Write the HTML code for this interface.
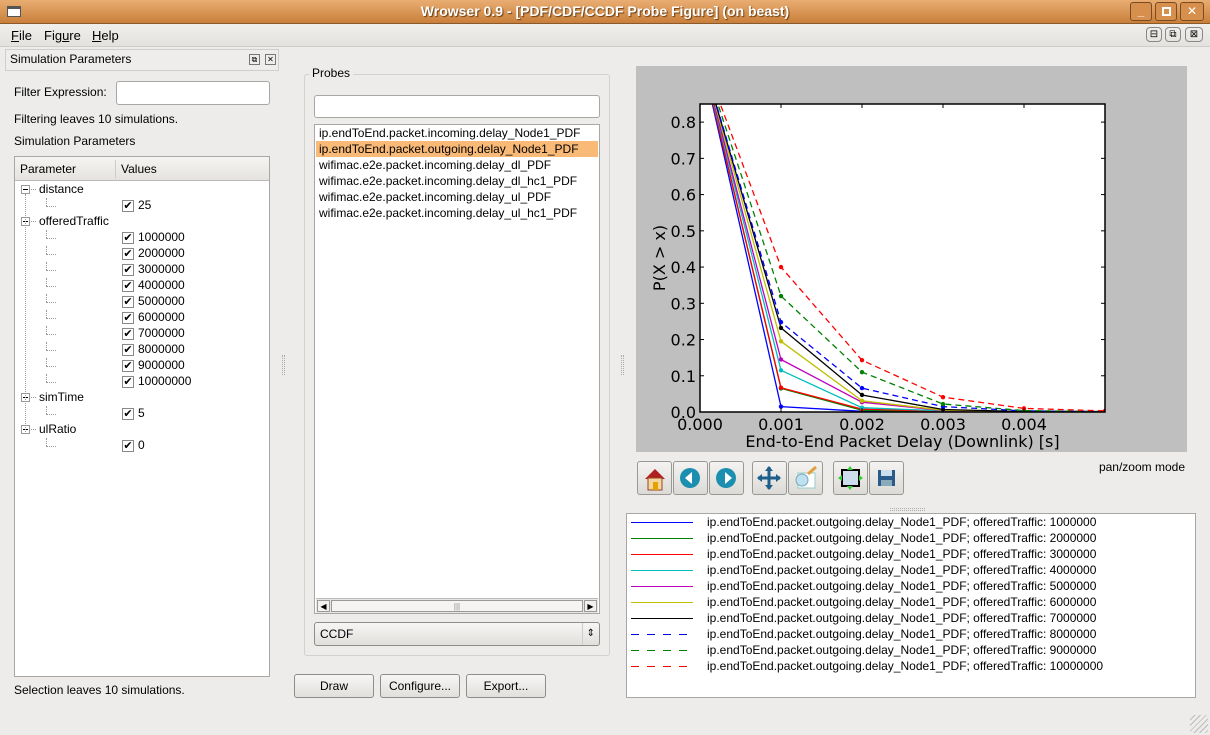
<!DOCTYPE html>
<html><head><meta charset="utf-8">
<style>
*{box-sizing:border-box;margin:0;padding:0}
body{width:1210px;height:735px;background:#edeceb;font-family:"Liberation Sans","DejaVu Sans",sans-serif;font-size:12px;color:#000;position:relative;overflow:hidden}
.a{position:absolute}
.t{position:absolute;white-space:nowrap;line-height:14px}
.box{position:absolute;background:#fff;border:1px solid #a9a7a3}
.btn{position:absolute;border:1px solid #8f8d89;border-radius:3px;background:linear-gradient(#f7f6f5,#e2e0dc);text-align:center;line-height:22px}
.tb{position:absolute;top:461px;width:35px;height:34px;border:1px solid #9a9893;border-radius:3px;background:linear-gradient(#f4f3f1,#dcdad6)}
.cb{position:absolute;width:12px;height:12px;border:1px solid #8a8884;background:#fff;font-size:11px;line-height:10px;text-align:center}
.dot{position:absolute;border-top:1px dotted #999;width:14px}
.vd{position:absolute;border-left:1px dotted #999}
.exp{position:absolute;width:9px;height:9px;border:1px solid #999;background:#fff}
.exp:after{content:"";position:absolute;left:1px;top:3px;width:5px;height:1px;background:#000}
</style></head><body>
<div class="a" style="left:0;top:0;width:1210px;height:24px;background:linear-gradient(#e9ad72,#c97f3a);border-bottom:1px solid #8a5a2a"></div>
<div class="a" style="left:7px;top:6px;width:14px;height:11px;background:#fff;border:1px solid #555;border-top:3px solid #555"></div>
<div class="t" style="left:0;width:1210px;top:4px;text-align:center;font-weight:bold;font-size:14px;color:#fff;text-shadow:1px 1px 1px #6a3e12">Wrowser 0.9 - [PDF/CDF/CCDF Probe Figure] (on beast)</div>
<div class="a" style="left:1130px;top:2px;width:22px;height:19px;border:1px solid #7a4a20;border-radius:3px;background:#d68f4c;color:#fff;text-align:center;font-weight:bold;line-height:17px">_</div>
<div class="a" style="left:1155px;top:2px;width:22px;height:19px;border:1px solid #7a4a20;border-radius:3px;background:#d68f4c;"><div class="a" style="left:6px;top:4px;width:9px;height:9px;border:2px solid #fff"></div></div>
<div class="a" style="left:1180px;top:2px;width:24px;height:19px;border:1px solid #7a4a20;border-radius:3px;background:#d68f4c;color:#fff;text-align:center;font-weight:bold;line-height:17px">✕</div>
<div class="a" style="left:0;top:24px;width:1210px;height:23px;background:linear-gradient(#f0efed,#e4e2de);border-bottom:1px solid #cfcdc9"></div>
<div class="t" style="left:11px;top:29px;font-size:13px"><u>F</u>ile</div>
<div class="t" style="left:44px;top:29px;font-size:13px">Fig<u>u</u>re</div>
<div class="t" style="left:92px;top:29px;font-size:13px"><u>H</u>elp</div>
<div class="a" style="left:1146px;top:27px;width:16px;height:15px;border:1px solid #888;border-radius:4px;font-size:10px;text-align:center;line-height:13px">⊟</div>
<div class="a" style="left:1165px;top:27px;width:16px;height:15px;border:1px solid #888;border-radius:4px;font-size:10px;text-align:center;line-height:13px">⧉</div>
<div class="a" style="left:1185px;top:27px;width:18px;height:15px;border:1px solid #888;border-radius:4px;font-size:10px;text-align:center;line-height:13px">⊠</div>

<div class="a" style="left:5px;top:49px;width:274px;height:22px;border:1px solid #cfcdc9;background:#eeedeb"></div>
<div class="t" style="left:10px;top:52px">Simulation Parameters</div>
<div class="a" style="left:249px;top:54px;width:11px;height:11px;border:1px solid #777;font-size:8px;line-height:9px;text-align:center">⧉</div>
<div class="a" style="left:265px;top:54px;width:11px;height:11px;border:1px solid #777;font-size:8px;line-height:9px;text-align:center">✕</div>
<div class="t" style="left:14px;top:85px">Filter Expression:</div>
<div class="box" style="left:116px;top:81px;width:154px;height:24px;border-radius:3px"></div>
<div class="t" style="left:14px;top:112px">Filtering leaves 10 simulations.</div>
<div class="t" style="left:14px;top:134px">Simulation Parameters</div>
<div class="box" style="left:14px;top:156px;width:256px;height:521px">
  <div class="a" style="left:0;top:0;width:254px;height:24px;background:linear-gradient(#f5f4f2,#e5e3df);border-bottom:1px solid #bbb"></div>
  <div class="t" style="left:5px;top:5px">Parameter</div>
  <div class="a" style="left:100px;top:3px;width:1px;height:18px;background:#ccc"></div>
  <div class="t" style="left:106px;top:5px">Values</div>
</div>
<div id="tree"></div>
<div class="t" style="left:14px;top:683px">Selection leaves 10 simulations.</div>
<div class="a" style="left:282px;top:355px;width:3px;height:20px;border-left:1px dotted #aaa;border-right:1px dotted #aaa"></div>

<div class="a" style="left:304px;top:74px;width:306px;height:582px;border:1px solid #d3d1cd;border-radius:3px"></div>
<div class="t" style="left:309px;top:66px;background:#edeceb;padding:0 3px">Probes</div>
<div class="box" style="left:314px;top:95px;width:286px;height:23px;border-radius:3px"></div>
<div class="box" style="left:314px;top:124px;width:286px;height:490px"></div>
<div class="a" style="left:316px;top:141px;width:282px;height:16px;background:#f9b977"></div>
<div id="probes"></div>
<div class="a" style="left:316px;top:598px;width:282px;height:15px;background:#e8e6e2;border-top:1px solid #bbb">
  <div class="a" style="left:1px;top:1px;width:13px;height:12px;border:1px solid #999;background:#f2f1ef;font-size:8px;text-align:center;line-height:11px">◀</div>
  <div class="a" style="left:15px;top:1px;width:252px;height:12px;border:1px solid #999;background:#f5f4f2;font-size:8px;text-align:center;line-height:11px;color:#888">|||</div>
  <div class="a" style="left:268px;top:1px;width:13px;height:12px;border:1px solid #999;background:#f2f1ef;font-size:8px;text-align:center;line-height:11px">▶</div>
</div>
<div class="btn" style="left:314px;top:622px;width:286px;height:24px;text-align:left;padding-left:5px">CCDF<span class="a" style="right:4px;top:0;border-left:1px solid #ccc;padding-left:4px;font-size:10px">⇕</span></div>
<div class="btn" style="left:294px;top:674px;width:80px;height:24px">Draw</div>
<div class="btn" style="left:380px;top:674px;width:80px;height:24px">Configure...</div>
<div class="btn" style="left:466px;top:674px;width:80px;height:24px">Export...</div>
<div class="a" style="left:621px;top:355px;width:3px;height:20px;border-left:1px dotted #aaa;border-right:1px dotted #aaa"></div>

<div class="a" style="left:636px;top:66px;width:551px;height:386px;background:#bfbfbf"></div>
<svg class="a" style="left:0;top:0" width="1210" height="735" id="chart"></svg>

<div class="tb" style="left:637px"><svg width="33" height="32"><polygon points="7,17 17,7 27,17" fill="#b02020"/><rect x="10" y="16" width="14" height="12" fill="#f0d8a0" stroke="#a04020"/><rect x="15" y="20" width="5" height="8" fill="#e6a000"/></svg></div>
<div class="tb" style="left:673px"><svg width="33" height="32"><circle cx="16" cy="16" r="10" fill="#1c8fb0"/><polygon points="11,16 18,10 18,22" fill="#fff"/></svg></div>
<div class="tb" style="left:709px"><svg width="33" height="32"><circle cx="16" cy="16" r="10" fill="#1c8fb0"/><polygon points="22,16 15,10 15,22" fill="#fff"/></svg></div>
<div class="tb" style="left:752px"><svg width="33" height="32"><path d="M16 5V27M5 16H27" stroke="#1d5f8a" stroke-width="3"/><polygon points="16,4 12,9 20,9" fill="#1d5f8a"/><polygon points="16,28 12,23 20,23" fill="#1d5f8a"/><polygon points="4,16 9,12 9,20" fill="#1d5f8a"/><polygon points="28,16 23,12 23,20" fill="#1d5f8a"/></svg></div>
<div class="tb" style="left:788px"><svg width="33" height="32"><rect x="9" y="11" width="17" height="15" fill="#fff" stroke="#9cc"/><circle cx="13" cy="18" r="6" fill="#bfe0ee" stroke="#7ab"/><path d="M19 12L27 5" stroke="#e0a040" stroke-width="3"/></svg></div>
<div class="tb" style="left:833px"><svg width="33" height="32"><rect x="8" y="8" width="17" height="16" fill="#cde" stroke="#000" stroke-width="2"/><polygon points="16,4 13,8 19,8" fill="#3c3"/><polygon points="16,28 13,24 19,24" fill="#3c3"/><polygon points="4,16 8,13 8,19" fill="#3c3"/><polygon points="29,16 25,13 25,19" fill="#3c3"/></svg></div>
<div class="tb" style="left:869px"><svg width="33" height="32"><rect x="8" y="8" width="17" height="16" fill="#2a5a8a"/><rect x="11" y="8" width="11" height="6" fill="#cde"/><rect x="11" y="18" width="11" height="6" fill="#8ab"/></svg></div>
<div class="t" style="left:1042px;top:460px;width:143px;text-align:right">pan/zoom mode</div>
<div class="a" style="left:890px;top:508px;width:35px;height:3px;border-top:1px dotted #aaa;border-bottom:1px dotted #aaa"></div>
<div class="box" style="left:626px;top:513px;width:570px;height:185px"></div>
<div id="legend"></div>
<div class="a" style="left:1190px;top:715px;width:18px;height:18px;background:repeating-linear-gradient(135deg,transparent 0 3px,#bbb 3px 4px)"></div>

<script>
const xTicks=[0,0.001,0.002,0.003,0.004];
const xTickLabels=["0.000","0.001","0.002","0.003","0.004"];
const yTicks=[0,0.1,0.2,0.3,0.4,0.5,0.6,0.7,0.8];
const yTickLabels=["0.0","0.1","0.2","0.3","0.4","0.5","0.6","0.7","0.8"];
const xValues=[0,0.001,0.002,0.003,0.004,0.005];
const s1=[1,0.015,0.002,0.001,0,0];
const s2=[1,0.065,0.005,0.001,0,0];
const s3=[1,0.067,0.008,0.002,0,0];
const s4=[1,0.115,0.012,0.003,0,0];
const s5=[1,0.145,0.027,0.004,0,0];
const s6=[1,0.195,0.031,0.005,0.001,0];
const s7=[1,0.232,0.047,0.007,0.001,0];
const s8=[1,0.248,0.066,0.015,0.003,0.001];
const s9=[1,0.32,0.11,0.022,0.004,0.001];
const s10=[1,0.40,0.143,0.041,0.01,0.003];
const trafficLabels=["1000000","2000000","3000000","4000000","5000000","6000000","7000000","8000000","9000000","10000000"];
const probeNames=["ip.endToEnd.packet.incoming.delay_Node1_PDF","ip.endToEnd.packet.outgoing.delay_Node1_PDF","wifimac.e2e.packet.incoming.delay_dl_PDF","wifimac.e2e.packet.incoming.delay_dl_hc1_PDF","wifimac.e2e.packet.incoming.delay_ul_PDF","wifimac.e2e.packet.incoming.delay_ul_hc1_PDF"];

const series=[s1,s2,s3,s4,s5,s6,s7,s8,s9,s10];
const colors=["#0000ff","#008000","#ff0000","#00bfbf","#bf00bf","#bfbf00","#000000","#0000ff","#008000","#ff0000"];
const dashed=[0,0,0,0,0,0,0,1,1,1];
const X0=700,X1=1105,Y0=412,Y1=104,XMAX=0.005,YMAX=0.85;
const sx=v=>X0+v/XMAX*(X1-X0);
const sy=v=>Y0-v/YMAX*(Y0-Y1);
const NS="http://www.w3.org/2000/svg";
const svg=document.getElementById('chart');
function mk(tag,attrs){const e=document.createElementNS(NS,tag);for(const k in attrs)e.setAttribute(k,attrs[k]);svg.appendChild(e);return e;}
const bg=mk('rect',{x:X0,y:Y1,width:X1-X0,height:Y0-Y1,fill:'#fff'});


const defs=mk('defs',{});
const cp=document.createElementNS(NS,'clipPath');cp.setAttribute('id','clip');
const cr=document.createElementNS(NS,'rect');cr.setAttribute('x',X0);cr.setAttribute('y',Y1);cr.setAttribute('width',X1-X0);cr.setAttribute('height',Y0-Y1);
cp.appendChild(cr);defs.appendChild(cp);
const g=mk('g',{'clip-path':'url(#clip)'});
series.forEach((s,i)=>{
  const pts=s.map((v,j)=>sx(xValues[j]).toFixed(1)+','+sy(v).toFixed(1)).join(' ');
  const pl=document.createElementNS(NS,'polyline');
  pl.setAttribute('points',pts);pl.setAttribute('fill','none');pl.setAttribute('stroke',colors[i]);pl.setAttribute('stroke-width','1.3');
  if(dashed[i])pl.setAttribute('stroke-dasharray','6,4');
  
  
  g.appendChild(pl);
  s.forEach((v,j)=>{
    const c=document.createElementNS(NS,'circle');
    c.setAttribute('cx',sx(xValues[j]));c.setAttribute('cy',sy(v));c.setAttribute('r','2.2');c.setAttribute('fill',colors[i]);
    
    
    g.appendChild(c);
  });
});
xTicks.forEach((v,i)=>{
  const x=sx(v);
  mk('line',{x1:x,x2:x,y1:Y0,y2:Y0-4,stroke:'#000'});
  mk('line',{x1:x,x2:x,y1:Y1,y2:Y1+4,stroke:'#000'});
  const t=mk('text',{x:x,y:Y0+18,'text-anchor':'middle','font-size':'16','font-family':'DejaVu Sans, sans-serif'});
  t.textContent=xTickLabels[i];
  
  
});
yTicks.forEach((v,i)=>{
  const y=sy(v);
  mk('line',{x1:X0,x2:X0+4,y1:y,y2:y,stroke:'#000'});
  mk('line',{x1:X1,x2:X1-4,y1:y,y2:y,stroke:'#000'});
  const t=mk('text',{x:X0-4,y:y+6,'text-anchor':'end','font-size':'16','font-family':'DejaVu Sans, sans-serif'});
  t.textContent=yTickLabels[i];
  
  
});
mk('rect',{x:X0,y:Y1,width:X1-X0,height:Y0-Y1,fill:'none',stroke:'#000','stroke-width':'1.5'});
const xt=mk('text',{x:(X0+X1)/2,y:447,'text-anchor':'middle','font-size':'16','font-family':'DejaVu Sans, sans-serif'});
xt.textContent='End-to-End Packet Delay (Downlink) [s]';


const yt=mk('text',{x:0,y:0,'text-anchor':'middle','font-size':'16','font-family':'DejaVu Sans, sans-serif',transform:'translate(665,258) rotate(-90)'});
yt.textContent='P(X > x)';



const lg=document.getElementById('legend');
trafficLabels.forEach((l,i)=>{
  const y=522+i*16;
  const ln=document.createElement('div');
  ln.className='a';
  const bgc=dashed[i]?`repeating-linear-gradient(90deg,${colors[i]} 0 8px,transparent 8px 16px)`:colors[i];
  ln.style.cssText=`left:631px;top:${y}px;width:62px;height:1px;background:${bgc}`;
  
  
  lg.appendChild(ln);
  const t=document.createElement('div');
  t.className='t';t.style.cssText=`left:707px;top:${y-7}px`;
  t.textContent='ip.endToEnd.packet.outgoing.delay_Node1_PDF; offeredTraffic: '+l;
  
  
  lg.appendChild(t);
});
const pr=document.getElementById('probes');
probeNames.forEach((p,i)=>{
  const t=document.createElement('div');
  t.className='t';t.style.cssText=`left:319px;top:${126+i*16}px`;
  t.textContent=p;
  
  
  pr.appendChild(t);
});
const tr=document.getElementById('tree');
function add(html,css,name,inter){const d=document.createElement('div');d.className=css.cls;d.style.cssText=css.s;d.innerHTML=html;tr.appendChild(d);return d;}
const rows=[["p","distance"],["v","25"],["p","offeredTraffic"]].concat(trafficLabels.map(l=>["v",l])).concat([["p","simTime"],["v","5"],["p","ulRatio"],["v","0"]]);
rows.forEach((r,i)=>{
  const y=182+i*16;
  if(r[0]==='p'){
    add('',{cls:'exp',s:`left:21px;top:${y+3}px`},'expand-toggle','true');
    add('',{cls:'dot',s:`left:31px;top:${y+7}px;width:5px`},'tree-line','false');
    add(r[1],{cls:'t',s:`left:39px;top:${y}px`},'param-'+r[1],'true');
  }else{
    add('',{cls:'vd',s:`left:46px;top:${y}px;height:8px`},'tree-line','false');
    add('',{cls:'dot',s:`left:46px;top:${y+8}px;width:10px`},'tree-line','false');
    add('✔',{cls:'cb',s:`left:122px;top:${y+2}px`},'value-checkbox','true');
    add(r[1],{cls:'t',s:`left:138px;top:${y}px`},'value-'+r[1],'false');
  }
});
add('',{cls:'vd',s:`left:25px;top:194px;height:238px`},'tree-line','false');
</script>
</body></html>
